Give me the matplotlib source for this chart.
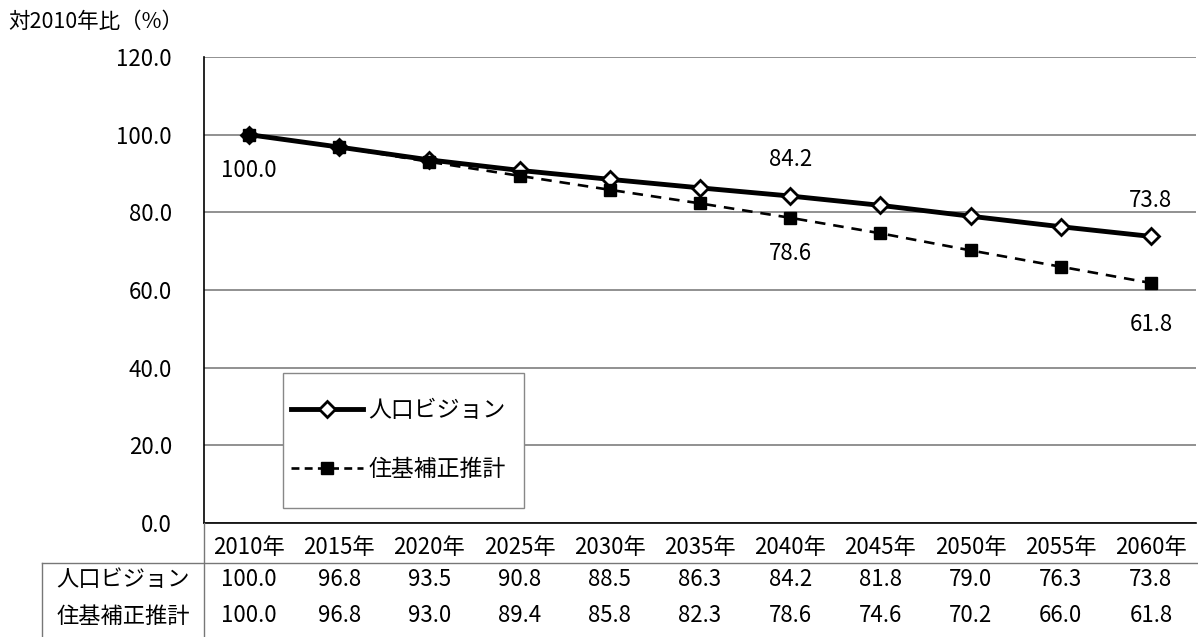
import matplotlib
matplotlib.use("Agg")
import matplotlib.pyplot as plt
from matplotlib.transforms import blended_transform_factory
from matplotlib.lines import Line2D
from matplotlib.patches import Rectangle

plt.rcParams['font.family'] = ['Noto Sans CJK JP', 'DejaVu Sans']

years = ["2010年", "2015年", "2020年", "2025年", "2030年", "2035年",
         "2040年", "2045年", "2050年", "2055年", "2060年"]
vision = [100.0, 96.8, 93.5, 90.8, 88.5, 86.3, 84.2, 81.8, 79.0, 76.3, 73.8]
juki = [100.0, 96.8, 93.0, 89.4, 85.8, 82.3, 78.6, 74.6, 70.2, 66.0, 61.8]
series_names = ["人口ビジョン", "住基補正推計"]
y_ticks = [0, 20, 40, 60, 80, 100, 120]

W, H = 1198, 637
fig = plt.figure(figsize=(W / 100, H / 100), dpi=100)
ax = fig.add_axes([204 / W, 1 - 523 / H, 992 / W, 466 / H])

x = list(range(len(years)))
ax.set_xlim(-0.5, len(years) - 0.5)
ax.set_ylim(0, 120)
ax.set_yticks(y_ticks)
ax.set_yticklabels([f"{v:.1f}" for v in y_ticks], fontsize=16)
ax.tick_params(axis='y', length=0, pad=23)
ax.set_xticks([])
ax.grid(axis='y', color='#888888', linewidth=1.3)
ax.set_axisbelow(True)
for side in ('top', 'right'):
    ax.spines[side].set_visible(False)
ax.spines['left'].set_color('black')
ax.spines['left'].set_linewidth(1.2)
ax.spines['bottom'].set_color('black')
ax.spines['bottom'].set_linewidth(1.2)

ax.plot(x, vision, color='black', linewidth=3.5, linestyle='-',
        marker='D', markersize=8, markerfacecolor='white',
        markeredgecolor='black', markeredgewidth=2, zorder=3)
ax.plot(x, juki, color='black', linewidth=1.9, linestyle=(0, (4, 3)),
        marker='s', markersize=9, markerfacecolor='black',
        markeredgecolor='black', zorder=4)

# value labels on selected points
def label(i, values, dy):
    ax.annotate(f"{values[i]:.1f}", (x[i], values[i]), xytext=(0, dy),
                textcoords='offset points', ha='center', va='center',
                fontsize=16)

label(0, vision, -26)
label(6, vision, 26)
label(6, juki, -26)
label(10, vision, 26)
label(10, juki, -30)

# legend with a plain square frame
ax.add_patch(Rectangle(((283 - 204) / 992, (523 - 508) / 466),
                       (524 - 283) / 992, (508 - 373) / 466,
                       transform=ax.transAxes, facecolor='white',
                       edgecolor='#888888', linewidth=1.0, zorder=5))
handles = [
    Line2D([], [], color='black', linewidth=3.5, marker='D', markersize=8,
           markerfacecolor='white', markeredgecolor='black', markeredgewidth=2),
    Line2D([], [], color='black', linewidth=1.9, linestyle=(0, (3, 2)),
           marker='s', markersize=9, markerfacecolor='black',
           markeredgecolor='black'),
]
leg = ax.legend(handles, series_names, loc='center left',
                bbox_to_anchor=((291 - 204) / 992, (523 - 440) / 466),
                borderaxespad=0, borderpad=0, fontsize=16.5,
                handlelength=3.15, handletextpad=0.22, labelspacing=1.6,
                frameon=False)
leg.set_zorder(6)

# title
fig.text(8 / W, 1 - 22 / H, "対2010年比（%）", fontsize=15.5,
         ha='left', va='center')

# data table under the chart
tr = blended_transform_factory(ax.transData, fig.transFigure)
row_y = [1 - 548 / H, 1 - 579 / H, 1 - 616 / H]
for i, yr in enumerate(years):
    ax.text(x[i], row_y[0], yr, transform=tr, ha='center', va='center',
            fontsize=16, clip_on=False)
    ax.text(x[i], row_y[1], f"{vision[i]:.1f}", transform=tr, ha='center',
            va='center', fontsize=16, clip_on=False)
    ax.text(x[i], row_y[2], f"{juki[i]:.1f}", transform=tr, ha='center',
            va='center', fontsize=16, clip_on=False)
for name, yy in zip(series_names, row_y[1:]):
    fig.text(123 / W, yy, name, ha='center', va='center', fontsize=16)

line_color = '#777777'
fig.add_artist(Line2D([42 / W, 1.0], [1 - 563 / H] * 2, color=line_color,
                      linewidth=1.0))
fig.add_artist(Line2D([42 / W] * 2, [0, 1 - 563 / H], color=line_color,
                      linewidth=1.0))
fig.add_artist(Line2D([204 / W] * 2, [0, 1 - 523 / H], color=line_color,
                      linewidth=1.0))

fig.savefig("out.png", dpi=100)
